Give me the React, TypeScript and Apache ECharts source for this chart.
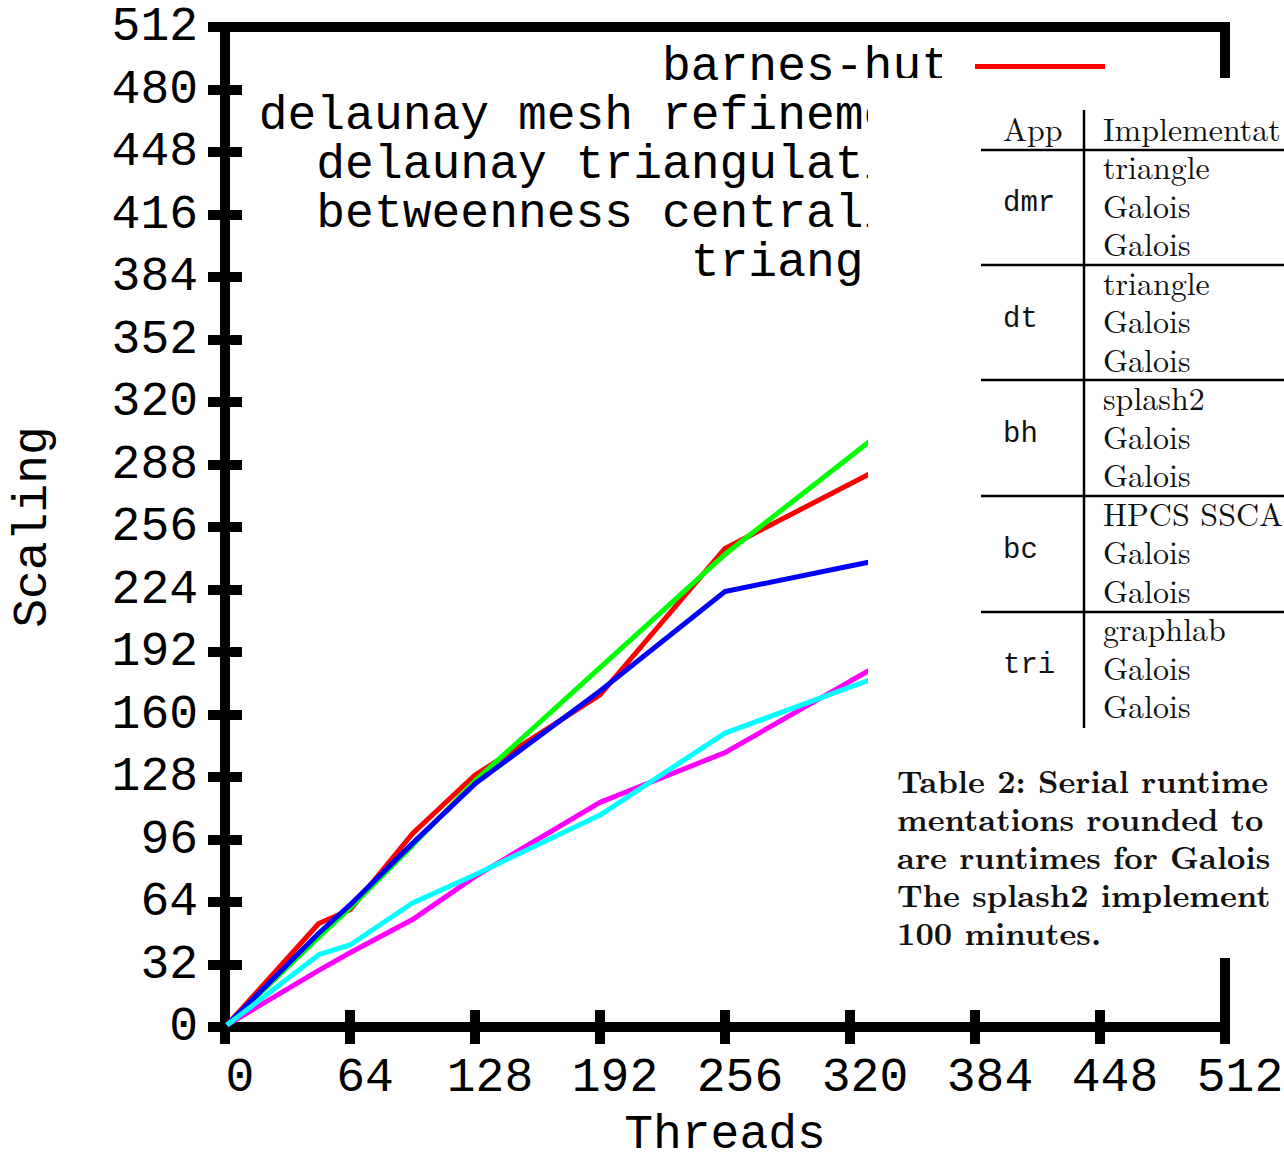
import React, { useEffect, useRef } from 'react';
import * as echarts from 'echarts';

// ---- data ----
const threads = [1, 48, 64, 96, 128, 192, 256, 320, 384];
const barnesHut = [1, 53, 60, 99, 129, 170, 245, 278, 311];
const meshRefinement = [1, 46, 61, 93, 126, 184, 242, 292, 342];
const triangulation = [1, 48, 62.5, 94, 124.5, 172, 223, 236, 249];
const betweenness = [1, 29, 38, 55, 77, 115, 140.5, 177, 213];
const triangles = [1, 37, 42, 63.5, 78, 108.5, 150.5, 174, 197];

const seriesNames = [
  'barnes-hut',
  'delaunay mesh refinement',
  'delaunay triangulation',
  'betweenness centrality',
  'triangles',
];
const seriesValues = [barnesHut, meshRefinement, triangulation, betweenness, triangles];
const seriesColors = ['#ff0000', '#00ff00', '#0000ff', '#ff00ff', '#00ffff'];

// overlaid table (from the page the figure was cut from)
const tableHeader = ['App', 'Implementat'];
const tableApps = ['dmr', 'dt', 'bh', 'bc', 'tri'];
const tableImpls = [
  ['triangle', 'Galois', 'Galois'],
  ['triangle', 'Galois', 'Galois'],
  ['splash2', 'Galois', 'Galois'],
  ['HPCS SSCA', 'Galois', 'Galois'],
  ['graphlab', 'Galois', 'Galois'],
];
const captionLines = [
  'Table 2: Serial runtime',
  'mentations rounded to',
  'are runtimes for Galois',
  'The splash2 implement',
  '100 minutes.',
];

const MONO = '"Courier New", "Nimbus Mono PS", FreeMono, "Liberation Mono", monospace';
const SERIF = '"Latin Modern Roman", "CMU Serif", "Liberation Serif", serif';

export default function App() {
  const ref = useRef<HTMLDivElement>(null);

  useEffect(() => {
    if (!ref.current) return;
    const chart = echarts.init(ref.current, undefined, { renderer: 'svg' });

    const ROW = 38.5;
    const graphics: any[] = [];
    // white page region covering the right part of the plot
    graphics.push({ type: 'rect', z: 100, shape: { x: 868, y: 78, width: 420, height: 880 }, style: { fill: '#fff' } });
    graphics.push({ type: 'rect', z: 100, shape: { x: 942, y: 44, width: 27, height: 34 }, style: { fill: '#fff' } });
    // table rules
    graphics.push({ type: 'line', z: 101, shape: { x1: 1084, y1: 110, x2: 1084, y2: 728 }, style: { stroke: '#000', lineWidth: 2.5 } });
    [150, 265, 380, 496, 612].forEach((y) => {
      graphics.push({ type: 'line', z: 101, shape: { x1: 981, y1: y, x2: 1290, y2: y }, style: { stroke: '#000', lineWidth: 2.5 } });
    });

    // header "App"
    graphics.push({
      type: 'text', z: 101, x: 1003, y: 127 - ROW / 2,
      style: { text: tableHeader[0], fontFamily: SERIF, fontSize: 32, lineHeight: ROW, fill: '#111', align: 'left', verticalAlign: 'top' },
    });
    // implementation column: header + all rows as one block
    const implLines = [tableHeader[1], ...tableImpls.flat()];
    graphics.push({
      type: 'text', z: 101, x: 1103, y: 127 - ROW / 2,
      style: { text: implLines.join('\n'), fontFamily: SERIF, fontSize: 32, lineHeight: ROW, fill: '#111', align: 'left', verticalAlign: 'top' },
    });
    // app column (monospace), one name in the middle of each 3-row group
    const appLines: string[] = [];
    tableApps.forEach((a) => { appLines.push('', a, ''); });
    graphics.push({
      type: 'text', z: 101, x: 1003, y: 165 - ROW / 2,
      style: { text: appLines.join('\n'), fontFamily: MONO, fontSize: 29, lineHeight: ROW, fill: '#111', align: 'left', verticalAlign: 'top' },
    });
    // caption block
    graphics.push({
      type: 'text', z: 101, x: 897, y: 779 - 19,
      style: { text: captionLines.join('\n'), fontFamily: SERIF, fontSize: 32, fontWeight: 'bold', lineHeight: 38, fill: '#111', align: 'left', verticalAlign: 'top' },
    });

    const tickStyle = { show: true, inside: true, length: 17, lineStyle: { color: '#000', width: 10 } };
    const labelStyle = { fontFamily: MONO, fontSize: 48, color: '#000' };

    chart.setOption({
      animation: false,
      backgroundColor: '#fff',
      grid: {
        left: 225, top: 27, width: 1000, height: 1000,
        containLabel: false, outerBoundsMode: 'none',
        show: true, borderWidth: 10, borderColor: '#000', backgroundColor: 'transparent',
      },
      legend: {
        orient: 'vertical',
        right: 174,
        top: 37,
        align: 'right',
        icon: 'rect',
        itemWidth: 130,
        itemHeight: 5,
        itemGap: 0,
        selectedMode: false,
        data: seriesNames,
        textStyle: { fontFamily: MONO, fontSize: 48, lineHeight: 49, color: '#000', padding: [0, 20, 0, 0] },
      },
      xAxis: [
        {
          type: 'value', min: 0, max: 512, interval: 64, position: 'bottom',
          axisLine: { show: false }, splitLine: { show: false }, axisTick: tickStyle,
          axisLabel: { ...labelStyle, margin: 27, padding: [0, 0, 0, 30] },
          name: 'Threads', nameLocation: 'middle', nameGap: 88,
          nameTextStyle: { fontFamily: MONO, fontSize: 48, lineHeight: 40, color: '#000' },
        },
        {
          type: 'value', min: 0, max: 512, interval: 64, position: 'top',
          axisLine: { show: false }, splitLine: { show: false }, axisTick: tickStyle, axisLabel: { show: false },
        },
      ],
      yAxis: [
        {
          type: 'value', min: 0, max: 512, interval: 32, position: 'left',
          axisLine: { show: false }, splitLine: { show: false }, axisTick: tickStyle,
          axisLabel: { ...labelStyle, margin: 27 },
          name: 'Scaling', nameLocation: 'middle', nameGap: 168,
          nameTextStyle: { fontFamily: MONO, fontSize: 48, color: '#000' },
        },
        {
          type: 'value', min: 0, max: 512, interval: 32, position: 'right',
          axisLine: { show: false }, splitLine: { show: false }, axisTick: tickStyle, axisLabel: { show: false },
        },
      ],
      series: seriesNames.map((name, i) => ({
        name,
        type: 'line',
        xAxisIndex: 0,
        yAxisIndex: 0,
        showSymbol: false,
        symbol: 'none',
        color: seriesColors[i],
        lineStyle: { width: 5, color: seriesColors[i] },
        data: threads.map((t, j) => [t, seriesValues[i][j]]),
        z: 2 + i,
      })),
      graphic: graphics,
    });

    return () => chart.dispose();
  }, []);

  return <div ref={ref} style={{ position: 'absolute', left: 0, top: 0, width: 1284, height: 1165 }} />;
}
